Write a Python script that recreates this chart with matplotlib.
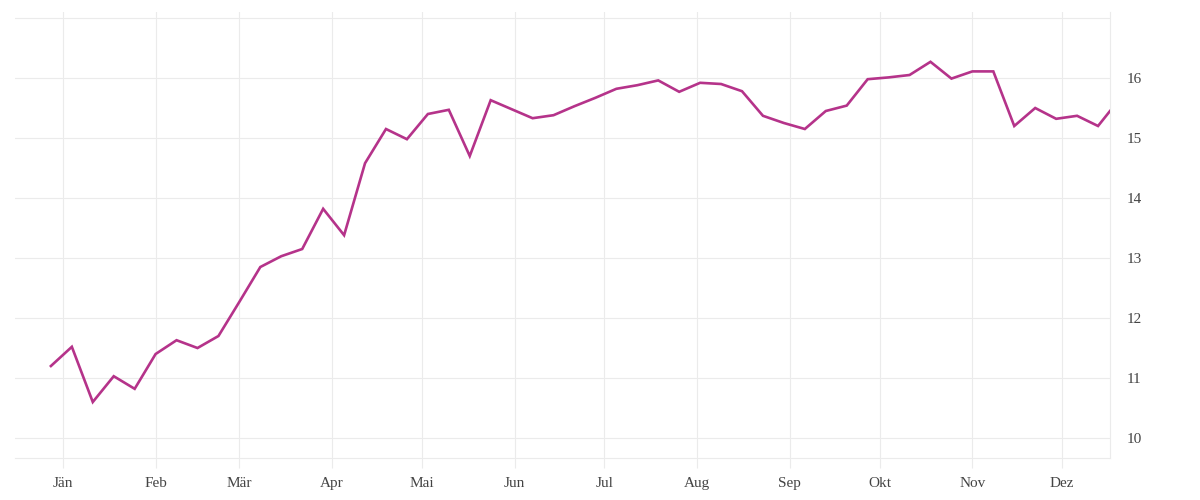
import pandas as pd
import numpy as np
import matplotlib
matplotlib.use('Agg')
import matplotlib.pyplot as plt

# weekly values
dates = list(pd.date_range('2022-12-28', periods=51, freq='7D')) + [pd.Timestamp('2023-12-17')]
values = [11.2, 11.52, 10.6, 11.03, 10.82, 11.4, 11.63, 11.5, 11.7, 12.27,
          12.85, 13.03, 13.15, 13.82, 13.38, 14.58, 15.15, 14.98, 15.4, 15.47,
          14.7, 15.63, 15.48, 15.33, 15.38, 15.53, 15.67, 15.82, 15.88, 15.96,
          15.77, 15.92, 15.9, 15.78, 15.37, 15.25, 15.15, 15.45, 15.54, 15.98,
          16.01, 16.05, 16.27, 15.99, 16.11, 16.11, 15.2, 15.5, 15.32, 15.37,
          15.2, 15.45]
month_labels = ['Jän', 'Feb', 'Mär', 'Apr', 'Mai', 'Jun', 'Jul', 'Aug', 'Sep', 'Okt', 'Nov', 'Dez']
month_ticks = pd.date_range('2023-01-01', periods=12, freq='MS')
y_ticks = [10, 11, 12, 13, 14, 15, 16, 17]

grid = '#ebebeb'
txt = '#444444'
plt.rcParams['font.family'] = ['Liberation Serif', 'DejaVu Serif']

fig = plt.figure(figsize=(12, 5), dpi=100)
ax = fig.add_axes([15/1200, 42/500, (1110-15)/1200, (458-12)/500])

ax.plot(dates, values, color='#b5338a', linewidth=1.9, solid_joinstyle='miter', zorder=3)

ax.set_xlim(pd.Timestamp('2022-12-16'), pd.Timestamp('2023-12-17'))
ax.set_ylim(9.667, 17.1)
ax.set_xticks(month_ticks)
ax.set_xticklabels(month_labels)
ax.set_yticks(y_ticks)
ax.set_yticklabels([str(v) if v < 17 else '' for v in y_ticks])

ax.yaxis.tick_right()
ax.grid(True, color=grid, linewidth=0.8)
ax.tick_params(axis='x', length=7, width=0.8, color=grid, labelsize=11, labelcolor=txt, pad=7)
ax.tick_params(axis='y', length=0, labelsize=11, labelcolor=txt, pad=12)

for side in ['left', 'top']:
    ax.spines[side].set_visible(False)
for side in ['bottom', 'right']:
    ax.spines[side].set_color(grid)
    ax.spines[side].set_linewidth(0.8)

fig.savefig('out.png', dpi=100)
